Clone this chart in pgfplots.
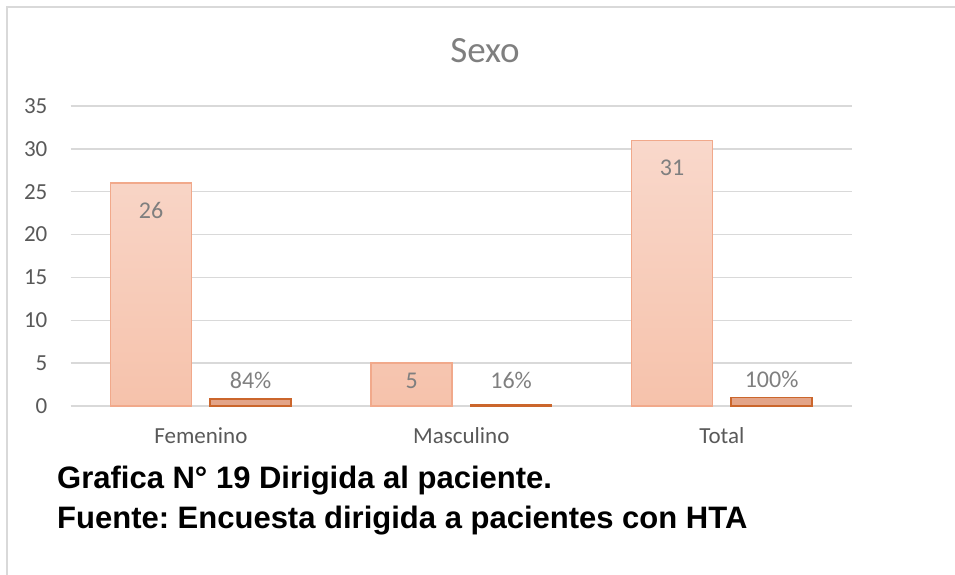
\documentclass[border=0pt]{standalone}
\usepackage{pgfplots}
\pgfplotsset{compat=1.18}
\usepackage{fontspec}
\setmainfont{Carlito}
\newfontfamily\arialfont{Liberation Sans}
\frenchspacing
\definecolor{gridc}{HTML}{D9D9D9}
\definecolor{framec}{HTML}{D9D9D9}
\definecolor{tickc}{HTML}{595959}
\definecolor{labc}{HTML}{7F7F7F}
\definecolor{aTop}{HTML}{F9D8CB}
\definecolor{aBot}{HTML}{F6C2AB}
\definecolor{aEdge}{HTML}{F1A98B}
\definecolor{bFill}{HTML}{E3A488}
\definecolor{bEdge}{HTML}{CB662C}
\begin{document}
\begin{tikzpicture}[x=1pt,y=1pt]
\path[use as bounding box] (0,0) rectangle (955,-575);
\draw[framec, line width=1.3pt] (7,-575) -- (7,-7) -- (955,-7);
\node[anchor=base, inner sep=0pt, text=labc, font=\fontsize{37}{37}\selectfont] at (485,-63) {Sexo};
\begin{axis}[
  at={(70.6pt,-406pt)}, anchor=south west,
  scale only axis, width=781.5pt, height=300pt,
  xmin=-0.5, xmax=2.5, ymin=0, ymax=35,
  ytick={0,5,...,35},
  xtick={0,1,2}, xticklabels={Femenino,Masculino,Total},
  ymajorgrids, grid style={gridc, line width=1.3pt},
  axis line style={draw=none},
  major tick length=0pt,
  /pgf/number format/assume math mode=true,
  tick label style={font=\fontsize{23}{23}\selectfont, text=tickc, inner sep=0pt},
  yticklabel style={anchor=east, xshift=-23pt},
  xticklabel style={anchor=base, yshift=-37pt},
  ybar=18.5pt, bar width=81pt,
  clip=false,
]
\addplot[draw=aEdge, line width=1.5pt, top color=aTop, bottom color=aBot,
  point meta=explicit symbolic,
  nodes near coords,
  nodes near coords style={anchor=base, inner sep=0pt, yshift=-35pt, text=labc, font=\fontsize{24}{24}\selectfont}]
  coordinates {(0,26) [26] (1,5) [\raisebox{10pt}{5}] (2,31) [31]};
\addplot[draw=bEdge, line width=1.5pt, fill=bFill,
  point meta=explicit symbolic,
  nodes near coords,
  nodes near coords style={anchor=base, inner sep=0pt, yshift=10.5pt, text=labc, font=\fontsize{24}{24}\selectfont}]
  coordinates {(0,0.84) [84\%] (1,0.16) [\raisebox{6pt}{16\%}] (2,1.0) [\raisebox{-1pt}{100\%}]};
\end{axis}
\node[anchor=base west, inner sep=0pt, font=\arialfont\bfseries\fontsize{31}{31}\selectfont] at (57,-488) {Grafica N° 19 Dirigida al paciente.};
\node[anchor=base west, inner sep=0pt, font=\arialfont\bfseries\fontsize{31}{31}\selectfont] at (57,-528) {Fuente: Encuesta dirigida a pacientes con HTA};
\end{tikzpicture}
\end{document}
